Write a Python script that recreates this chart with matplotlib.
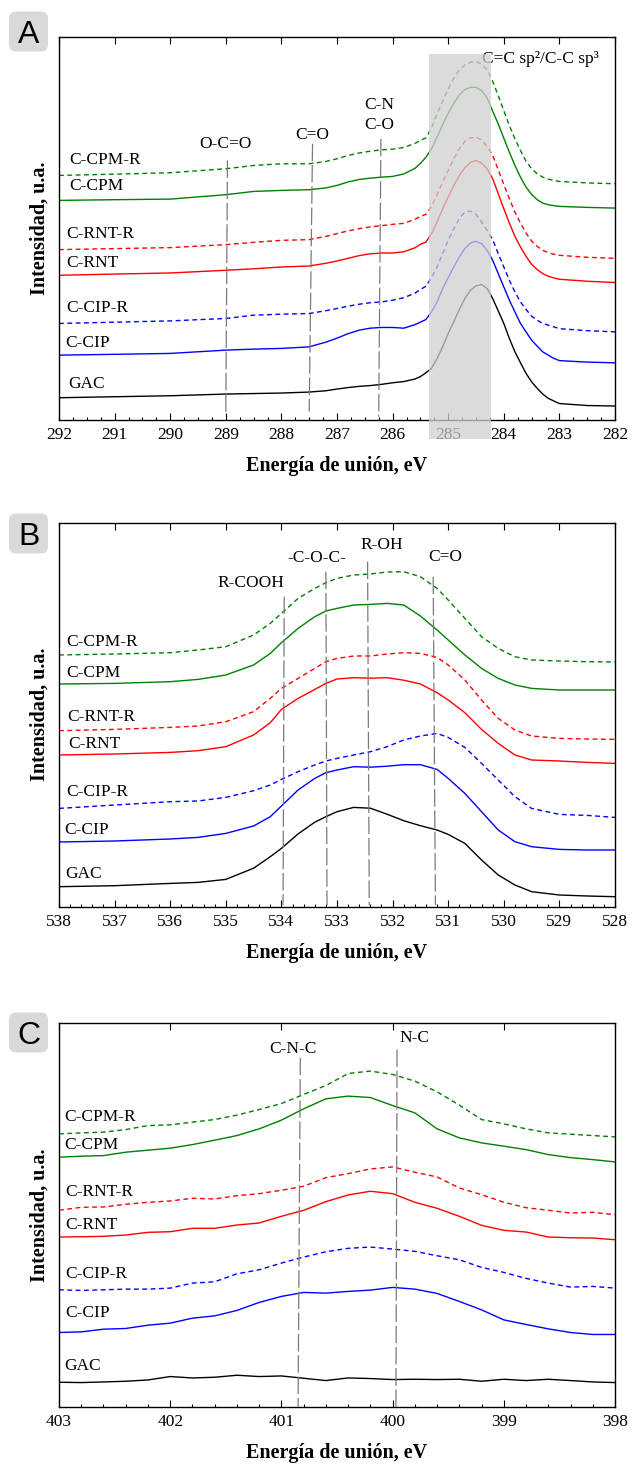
import matplotlib
matplotlib.use('Agg')
import matplotlib.pyplot as plt
from matplotlib.patches import Rectangle, FancyBboxPatch
from matplotlib.ticker import MultipleLocator

# ---------------- DATA ----------------
names = ['GAC', 'C-CIP', 'C-CIP-R', 'C-RNT', 'C-RNT-R', 'C-CPM', 'C-CPM-R']

# Panel A: C 1s
EA = [292, 291, 290, 289, 288.5, 288, 287.5, 287.2, 287, 286.8, 286.6, 286.4, 286.2, 286, 285.8, 285.6, 285.5,
      285.4, 285.3, 285.2, 285.1, 285.0, 284.9, 284.8, 284.7, 284.6, 284.5, 284.4, 284.3, 284.2, 284.1,
      284.0, 283.9, 283.8, 283.7, 283.6, 283.5, 283.4, 283.3, 283.2, 283.1, 283.0, 282.5, 282]
A_GAC = [22.3, 23.3, 24.3, 26, 26.5, 27, 28, 29.3, 31, 32.5, 33.7, 34.5, 35.7, 37.3, 38.5, 41, 43.5,
         47.3, 51.7, 61.7, 73.3, 86.7, 98.3, 110.7, 121.7, 130, 134.3, 135.7, 131.7, 121.7, 109.3,
         96.7, 81.7, 68.3, 57.3, 46.7, 38.3, 31.7, 26, 21.7, 19, 16.5, 14.5, 14]
A_CIP = [65, 65.8, 66.7, 70, 71, 71.7, 73.3, 78, 82, 86.5, 90, 92, 92.7, 92.7, 92, 95.5, 98,
         100.7, 108.3, 118.3, 131.7, 142.7, 153.3, 163.3, 171.7, 177.3, 179, 176.7, 170, 160, 146.7,
         133.3, 120, 108.3, 96.7, 88.3, 80, 74, 68.3, 65, 61.7, 59.5, 58, 57.3]
A_CIPR = [96.7, 98, 99.3, 101.7, 105, 106, 106.7, 109.5, 111.7, 114, 116, 117.5, 118.3, 120, 122.5, 127, 130.7,
          134, 142.7, 153.3, 166.7, 180, 191.7, 201.7, 208.3, 209.3, 206, 198.3, 190, 180.7, 166.7,
          153.3, 140, 128.3, 118.3, 110.7, 104, 100, 96.7, 95, 93.3, 91.5, 89.5, 88.3]
A_RNT = [145, 146.2, 147.3, 150, 151.5, 153.3, 154.3, 157, 159.3, 162, 164.7, 166.5, 167.3, 167.3, 168.5, 172.5, 176,
         178.3, 186.7, 198.3, 211.7, 223.3, 235, 245, 252.7, 258, 260, 257.3, 251.7, 241.7, 226.7,
         211.7, 197.3, 184, 173.3, 164, 156, 150.7, 146.7, 144, 142.3, 141, 139, 137.7]
A_RNTR = [170.7, 171.7, 172.7, 175.7, 178, 180, 180.7, 184, 186.7, 189.5, 191.7, 193.5, 194.7, 196, 197, 201, 204,
          206, 214, 226, 238.3, 250, 261.7, 271.7, 279, 282.7, 283.3, 280.7, 274, 265, 250.7,
          236, 221.7, 208.3, 197.3, 187.3, 179.3, 174, 170, 167.7, 166, 165, 163, 162]
A_CPM = [220, 220.7, 221.3, 225.7, 229, 230, 230.7, 232.5, 235, 238.5, 241, 242.3, 243.3, 244, 246.5, 252, 257,
         263.3, 271.7, 283.3, 296, 307.3, 317.3, 325.7, 331, 333.3, 333.3, 330, 322.7, 309.3, 296.7,
         282.3, 268.3, 255, 243.3, 233.3, 226, 220.7, 217.3, 215.7, 214.7, 214, 213, 212.3]
A_CPMR = [245, 246.3, 247.7, 251.7, 255, 256.7, 256.7, 259, 261.7, 265, 267.5, 269.3, 270.7, 271.3, 273, 277, 280,
          282.7, 292.7, 306.7, 319.3, 331.7, 342.7, 350.7, 355.7, 358.3, 359, 356.7, 350.7, 339.3, 325,
          310, 295, 281.7, 270, 259.3, 251.7, 246.7, 243.3, 241.3, 240, 239, 237.5, 236.7]

# Panel B: O 1s
EB = [538, 537, 536, 535.5, 535, 534.5, 534.2, 534.0, 533.7, 533.4, 533.2, 533.0, 532.7, 532.4, 532.1,
      531.8, 531.5, 531.2, 531.0, 530.7, 530.4, 530.1, 529.8, 529.5, 529, 528.5, 528]
B_GAC = [20, 21, 23.3, 24.3, 27.3, 38.5, 50, 58.3, 72.8, 84.5, 90, 95, 99.3, 98.5, 92.5,
         86, 81, 76.7, 72.3, 63.3, 46.7, 31.7, 21.7, 15, 11.7, 10.7, 10]
B_CIP = [64.7, 65.7, 67.7, 69.3, 73.3, 80.7, 90, 100.7, 116.7, 128.3, 134, 136.7, 140, 139.5, 140.5,
         142, 142, 137.3, 128.3, 113.3, 95, 76.7, 65, 60, 57.3, 56.7, 56.7]
B_CIPR = [98.3, 101.7, 105, 105.7, 109.3, 116, 121.7, 127.3, 135, 141.7, 145.7, 148.3, 151.7, 155, 160,
          166.7, 170.7, 173.3, 169.3, 159.3, 143.3, 126.7, 110, 98.3, 92.3, 91.3, 89.3]
B_RNT = [151.7, 152.7, 154.3, 156, 160, 171.7, 184, 197.3, 208.3, 217.3, 223.3, 227.7, 229, 228.5, 229,
         226.5, 222.7, 214, 206.7, 194, 177.3, 163.3, 151.7, 146.7, 145.7, 144.3, 143.3]
B_RNTR = [176, 177.3, 179.3, 180.7, 185, 195, 208.3, 218.3, 228.3, 238.3, 245, 248.3, 250.7, 250.7, 252.7,
          254, 253.3, 249.3, 241.7, 226.7, 206.7, 188.3, 176.7, 170.7, 168.3, 167.7, 167.3]
B_CPM = [222.7, 223.3, 225, 227.3, 231.7, 241.7, 253.3, 264, 278.3, 290, 295.7, 298.3, 301.7, 302.3, 303.3,
         301.7, 290.7, 276.7, 266.7, 251.7, 238.3, 228.3, 221.7, 218.3, 216.7, 216.7, 216.7]
B_CPMR = [251.7, 252.7, 254, 256.7, 260, 271.7, 283.3, 293.3, 308.3, 318.3, 324, 328.3, 331.7, 332.7, 334.7,
          335, 330, 318.3, 306.7, 288.3, 270, 258.3, 250, 246.7, 245.7, 245, 244.7]

# Panel C: N 1s
EC = [403.0, 402.8, 402.6, 402.4, 402.2, 402.0, 401.8, 401.6, 401.4, 401.2, 401.0, 400.8, 400.6,
      400.4, 400.2, 400.0, 399.8, 399.6, 399.4, 399.2, 399.0, 398.8, 398.6, 398.4, 398.2, 398.0]
C_GAC = [25, 24.7, 25.3, 26, 27.3, 30.7, 29.3, 30, 32, 30.7, 31.3, 29, 26.7,
         29.3, 28.7, 27.7, 28, 27.7, 28, 26, 28, 26.7, 28, 26.7, 25.3, 24.7]
C_CIP = [74.7, 75.3, 78, 78.7, 82, 84, 89, 91.3, 96.7, 104.7, 110.7, 114.7, 114,
         115.7, 117, 119.7, 118, 113.7, 105.7, 97.3, 87.3, 82.7, 78.3, 74.7, 72.7, 72.7]
C_CIPR = [117.3, 116.7, 117.3, 118, 118, 119, 124, 125.3, 133.3, 137.3, 144, 150, 155.3,
          158.7, 160, 158, 155.7, 151.3, 147.3, 139.7, 134.7, 128.7, 124, 120, 120.7, 119]
C_RNT = [170, 170.3, 170.7, 172, 174.7, 175.3, 178.7, 178.7, 182, 184, 190.7, 196.7, 205.3,
         212, 215.7, 213.3, 204.7, 198.7, 190.7, 181.7, 176.7, 175, 170, 169.3, 169, 167.3]
C_RNTR = [196.7, 199.7, 200, 202.7, 204.7, 206, 208.7, 208, 211.3, 213.3, 216.7, 220.7, 229.3,
          233.3, 238, 240, 234.7, 230, 219, 212.3, 204.7, 199.3, 196.7, 194, 194.7, 192.3]
C_CPM = [249.7, 250.7, 251.3, 254.7, 256.7, 258.7, 262.3, 266.7, 271.3, 278, 286.7, 298, 308,
         310.7, 309.3, 301.3, 294, 278, 269, 264, 260.7, 257.3, 252.3, 249.3, 247.3, 245]
C_CPMR = [273, 274, 274.7, 277.3, 281.3, 282, 284.7, 287.3, 291.7, 297.3, 303.3, 312.3, 321.3,
          333.3, 335.7, 332.3, 325.7, 315, 301.7, 287.3, 283, 278, 274, 272.7, 271.3, 270]

# series label positions (energy, intensity)
A_lab_x = [291.84, 291.88, 291.87, 291.87, 291.87, 291.82, 291.82]
A_lab_y = [36, 77, 112, 157, 186, 234, 260]
B_lab_x = [537.89, 537.91, 537.87, 537.84, 537.86, 537.87, 537.87]
B_lab_y = [33, 77, 115, 163, 190, 234, 265]
C_lab_x = [402.95, 402.94, 402.94, 402.94, 402.94, 402.95, 402.95]
C_lab_y = [41.3, 94, 133.3, 182.3, 214.7, 261.7, 290]

# bond assignments: label, label x, label y
A_bonds = [('O-C=O', 289.0, 277), ('C=O', 287.45, 286), ('C-N', 286.24, 316), ('C-O', 286.24, 296)]
B_bonds = [('R-COOH', 534.54, 323.3), ('-C-O-C-', 533.37, 348.3), ('R-OH', 532.2, 361.7), ('C=O', 531.06, 349.3)]
C_bonds = [('C-N-C', 400.9, 357.3), ('N-C', 399.8, 369)]
# guide lines: x_top, y_top, x_bottom, y_bottom
A_guides = [(288.97, 260, 289.0, 8.3), (287.44, 276.7, 287.5, 8.3), (286.21, 281.7, 286.25, 3.3)]
B_guides = [(533.95, 310, 533.97, 1.7), (533.2, 335, 533.18, 1.7), (532.45, 345, 532.42, 1.7), (531.27, 330, 531.23, 1.7)]
C_guides = [(400.83, 349, 400.85, 0.7), (399.96, 357.3, 399.97, 0.7)]
# C=C region
A_band = (285.35, 284.23)

# ---------------- STYLE ----------------
W, H = 632, 1464
plt.rcParams['font.family'] = ['Liberation Serif', 'DejaVu Serif']
SANS = ['Liberation Sans', 'DejaVu Sans']
colors = ['black', 'blue', 'blue', 'red', 'red', 'green', 'green']
styles = ['-', '-', (0, (3.5, 2.5)), '-', (0, (3.5, 2.5)), '-', (0, (3.5, 2.5))]
GUIDE = '#7a7a7a'

fig = plt.figure(figsize=(W / 100, H / 100), dpi=100)


def make_axes(top, bottom, xlim, minor):
    ax = fig.add_axes([59 / W, 1 - bottom / H, 556 / W, (bottom - top) / H])
    ax.set_xlim(*xlim)
    ax.set_ylim(0, 384)
    ax.set_yticks([])
    ax.xaxis.set_major_locator(MultipleLocator(1))
    ax.xaxis.set_minor_locator(MultipleLocator(minor))
    ax.tick_params(axis='x', which='major', direction='in', length=5, width=0.8,
                   top=True, labelsize=12.5, pad=5)
    ax.tick_params(axis='x', which='minor', direction='in', length=2.5, width=0.8, top=False)
    for s in ax.spines.values():
        s.set_linewidth(1.0)
    ax.set_xlabel('Energía de unión, eV', fontsize=14.5, fontweight='bold', va='center')
    ax.xaxis.set_label_coords(0.5, -0.12)
    ax.set_ylabel('Intensidad, u.a.', fontsize=14.5, fontweight='bold', va='center')
    ax.yaxis.set_label_coords(-19 / 556, 0.5)
    return ax


def panel_letter(letter, cy):
    box = FancyBboxPatch((0.09, (H - cy - 20) / 100), 0.39, 0.40,
                         boxstyle='round,pad=0,rounding_size=0.07',
                         transform=fig.dpi_scale_trans, facecolor='#d9d9d9', edgecolor='none')
    fig.add_artist(box)
    fig.text(29 / W, 1 - cy / H, letter, fontsize=23, family=SANS, ha='center', va='center_baseline')


def draw_panel(ax, E, series, lab_x, lab_y, bonds, guides):
    for y, c, ls in zip(series, colors, styles):
        ax.plot(E, y, color=c, linestyle=ls, lw=1.0)
    for n, x, y in zip(names, lab_x, lab_y):
        ax.text(x, y, n, fontsize=12.5, ha='left', va='center')
    for t, x, y in bonds:
        ax.text(x, y, t, fontsize=12.5, ha='center', va='center')
    for xt, yt, xb, yb in guides:
        ax.plot([xt, xb], [yt, yb], color=GUIDE, lw=0.9, dashes=(14, 3))


axA = make_axes(36.7, 420, (292, 282), 0.25)
draw_panel(axA, EA, [A_GAC, A_CIP, A_CIPR, A_RNT, A_RNTR, A_CPM, A_CPMR], A_lab_x, A_lab_y, A_bonds, A_guides)
axA.text(284.39, 362, 'C=C sp²/C-C sp³', fontsize=12.5, ha='left', va='center')
axA.add_patch(Rectangle((A_band[0], -19), A_band[1] - A_band[0], 386, facecolor='#d0d0d0',
                        edgecolor='none', alpha=0.75, zorder=5, clip_on=False))

axB = make_axes(522.7, 906.7, (538, 528), 0.2)
draw_panel(axB, EB, [B_GAC, B_CIP, B_CIPR, B_RNT, B_RNTR, B_CPM, B_CPMR], B_lab_x, B_lab_y, B_bonds, B_guides)

axC = make_axes(1022.7, 1407.3, (403, 398), 0.2)
draw_panel(axC, EC, [C_GAC, C_CIP, C_CIPR, C_RNT, C_RNTR, C_CPM, C_CPMR], C_lab_x, C_lab_y, C_bonds, C_guides)

panel_letter('A', 31.5)
panel_letter('B', 533.5)
panel_letter('C', 1032.5)

fig.savefig('out.png', dpi=100)
